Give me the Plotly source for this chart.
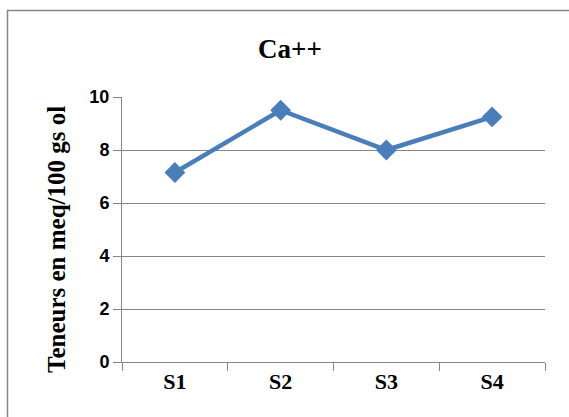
import plotly.graph_objects as go

# Calcium contents per sample
samples = ["S1", "S2", "S3", "S4"]
ca_values = [7.15, 9.5, 8.0, 9.25]
y_ticks = [0, 2, 4, 6, 8, 10]

W, H = 569, 417
L, R, T, B = 122, 24, 97, 55
pw, ph = W - L - R, H - T - B


def px_to_paper_x(px):
    return (px - L) / pw


def px_to_paper_y(py):
    return (H - B - py) / ph


def bold(s):
    return f"<b>{s}</b>"


fig = go.Figure()
fig.add_trace(go.Scatter(
    x=samples, y=ca_values, mode="lines+markers",
    line=dict(color="#4a7ebb", width=4.5),
    marker=dict(symbol="diamond", size=16, color="#4a7ebb"),
    showlegend=False,
))

fig.update_layout(
    width=W, height=H,
    margin=dict(l=L, r=R, t=T, b=B),
    paper_bgcolor="white", plot_bgcolor="white",
    xaxis=dict(
        type="category", range=[-0.5, 3.5], tickson="boundaries",
        tickvals=samples, ticktext=[bold(s) for s in samples],
        ticks="outside", ticklen=8, tickcolor="#868686", tickwidth=1,
        showline=True, linecolor="#868686", linewidth=1, showgrid=False,
        tickfont=dict(family="Liberation Serif", size=22, color="black"),
    ),
    yaxis=dict(
        range=[0, 10], tickvals=y_ticks,
        ticktext=[bold(v) for v in y_ticks],
        ticks="outside", ticklen=8,
        tickcolor="#868686", showline=True, linecolor="#868686",
        showgrid=True, gridcolor="#868686", gridwidth=1, zeroline=False,
        tickfont=dict(family="Liberation Sans", size=18, color="black"),
    ),
    annotations=[
        dict(
            text=bold("Ca++"), xref="paper", yref="paper",
            x=px_to_paper_x(290), y=px_to_paper_y(49),
            xanchor="center", yanchor="middle", showarrow=False,
            font=dict(family="Liberation Serif", size=27, color="black"),
        ),
        dict(
            text=bold("Teneurs en meq/100 gs ol"), textangle=-90,
            xref="paper", yref="paper",
            x=px_to_paper_x(56), y=px_to_paper_y(240),
            xanchor="center", yanchor="middle", showarrow=False,
            font=dict(family="Liberation Serif", size=25, color="black"),
        ),
    ],
    shapes=[dict(
        type="rect", xref="paper", yref="paper",
        x0=px_to_paper_x(7.5), x1=px_to_paper_x(W + 20),
        y0=px_to_paper_y(H + 20), y1=px_to_paper_y(10.5),
        line=dict(color="#868686", width=1.5), layer="below",
    )],
)

fig.write_html("out.html")
